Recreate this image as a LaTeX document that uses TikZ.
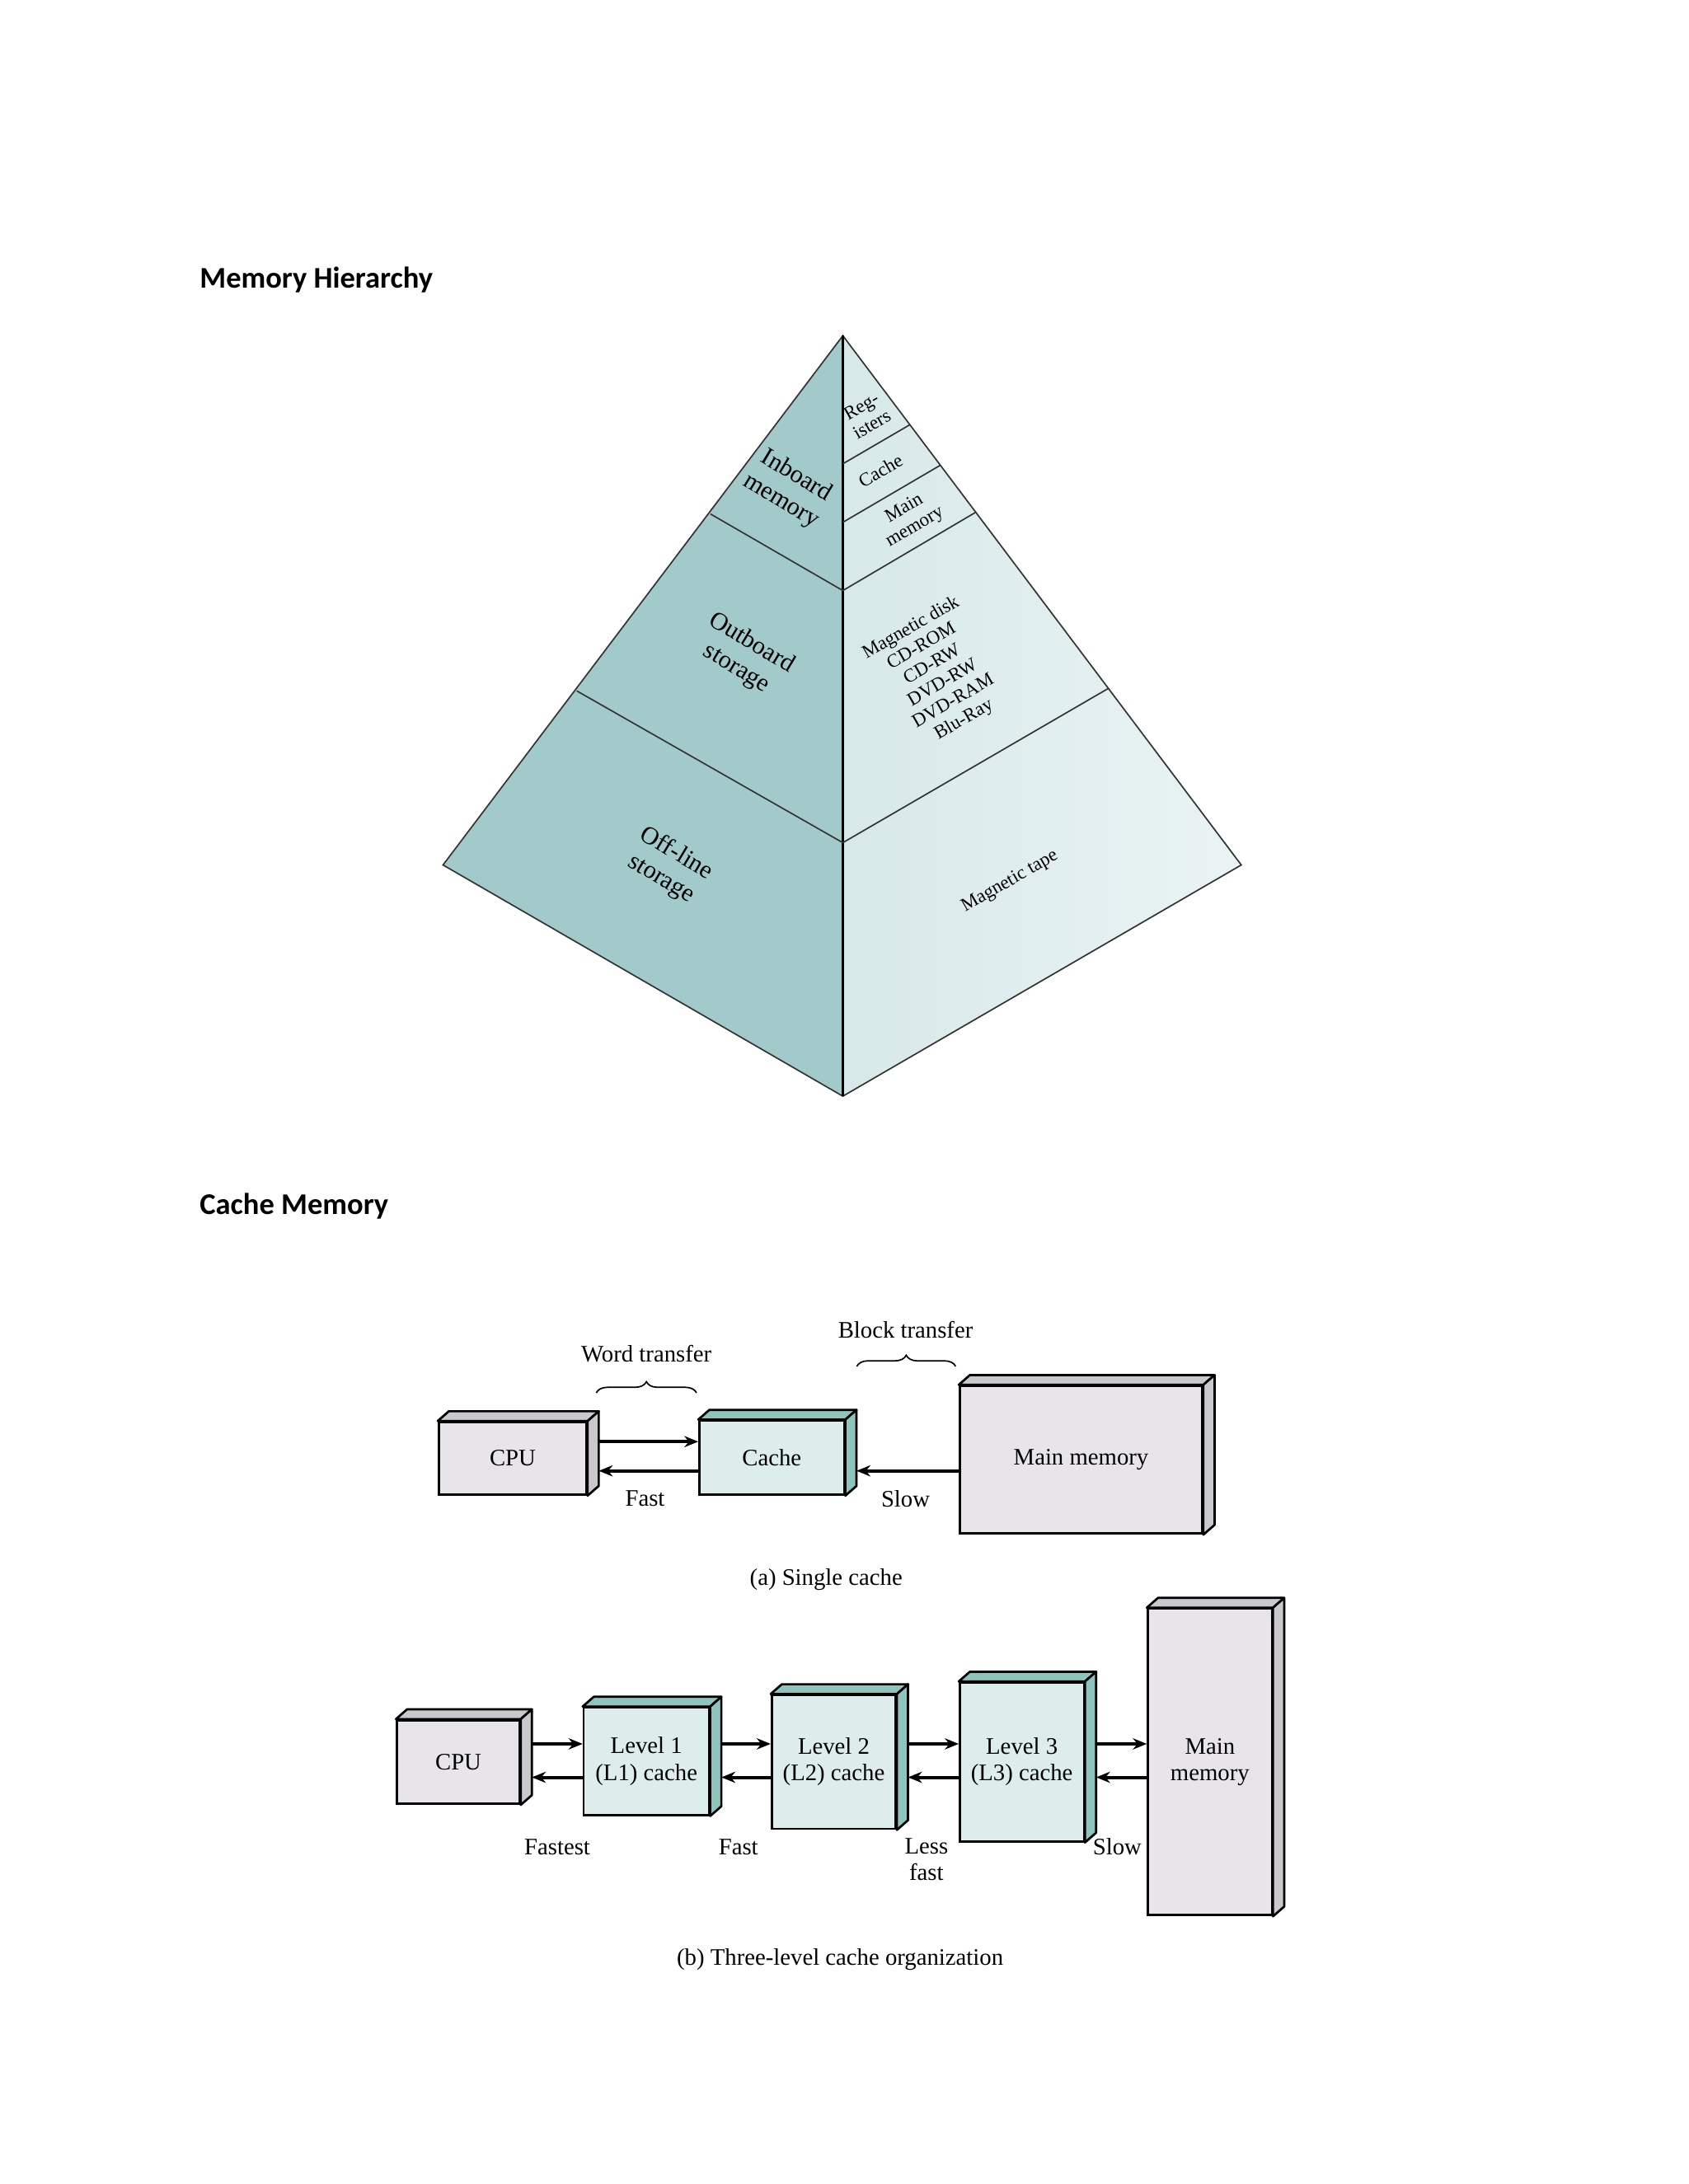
\documentclass[tikz,border=0pt]{standalone}
\usepackage{fontspec}
\setmainfont{Liberation Serif}
\newfontfamily\titlefont{Carlito}
\usetikzlibrary{calc,arrows.meta,decorations.pathreplacing}
\definecolor{dark}{HTML}{A3CACA}
\definecolor{light}{HTML}{DDECED}
\definecolor{gfront}{HTML}{E7E5E9}
\definecolor{gside}{HTML}{CAC8CC}
\definecolor{tfront}{HTML}{DCEDEB}
\definecolor{tside}{HTML}{8FC3BE}
\tikzset{
 pyr/.style={draw=black!80,line width=0.5pt},
 plab/.style={font=\fontsize{9}{10.5}\selectfont,align=center,inner sep=0pt},
 slab/.style={font=\fontsize{6.8}{7.6}\selectfont,align=center,inner sep=0pt},
 cbox/.style={draw,line width=0.8pt,inner sep=0pt,align=center,font=\fontsize{8.5}{9.5}\selectfont},
 lab/.style={font=\fontsize{8.5}{9.5}\selectfont,align=center,inner sep=1pt},
 arr/.style={line width=1.2pt,-{Stealth[length=5pt,width=4pt]}},
 ttl/.style={font=\titlefont\bfseries\fontsize{10.8}{12}\selectfont,anchor=west,inner sep=0pt},
 brc/.style={decorate,decoration={brace,amplitude=4pt},line width=0.5pt}
}
\newcommand\cube[8]{%
 \node[cbox,fill=#6,minimum width={0.5pt*(#4-#2)},minimum height={0.5pt*(#5-#3)}] (#1) at ({(#2+#4)/2},{(#3+#5)/2}) {#8};
 \draw[line width=0.8pt,fill=#7,line join=round] (#1.north west) -- ++(8,-7) -- ($(#1.north east)+(8,-7)$) -- (#1.north east) -- cycle;
 \draw[line width=0.8pt,fill=#7,line join=round] (#1.north east) -- ++(8,-7) -- ($(#1.south east)+(8,-7)$) -- (#1.south east) -- cycle;
}
\begin{document}
\begin{tikzpicture}[x=0.5pt,y=-0.5pt]
\useasboundingbox[fill=white] (0,0) rectangle (1212,1568);
\node[ttl] (t1) at (143,201) {Memory Hierarchy};
\node[ttl] (t2) at (143,866) {Cache Memory};
% pyramid
\coordinate (A) at (605,241);
\coordinate (L) at (318,621);
\coordinate (R) at (891,621);
\coordinate (B) at (605,787);
\fill[dark] (A) -- (L) -- (B) -- cycle;
\shade[left color=light!90!dark, right color=light!60] (A) -- (B) -- (R) -- cycle;
\draw[pyr] (A) -- (L) -- (B) -- (R) -- cycle;
\draw[line width=0.8pt] (A) -- (B);
\draw[pyr] (510,369) -- (605,424) -- (700,368);
\draw[pyr] (414,496) -- (605,605) -- (796,494);
\draw[pyr] (605,333) -- (653,305);
\draw[pyr] (605,375) -- (675,334);
\node[plab,rotate=-31] (n1) at (566,351) {Inboard\\memory};
\node[plab,rotate=-31] (n2) at (534,471) {Outboard\\storage};
\node[plab,rotate=-31] (n3) at (480,622) {Off-line\\storage};
\node[slab,rotate=30] (r1) at (622,298) {Reg-\\isters};
\node[slab,rotate=30] (r2) at (632,338) {Cache};
\node[slab,rotate=30] (r3) at (653,372) {Main\\memory};
\node[slab,rotate=30] (r4) at (673,484) {Magnetic disk\\CD-ROM\\CD-RW\\DVD-RW\\DVD-RAM\\Blu-Ray};
\node[slab,rotate=30] (r5) at (725,633) {Magnetic tape};
% (a)
\cube{cpua}{315}{1021}{421}{1073}{gfront}{gside}{CPU}
\cube{cachea}{502}{1020}{606}{1073}{tfront}{tside}{Cache}
\cube{mema}{689}{995}{863}{1101}{gfront}{gside}{Main memory}
\coordinate (ya1) at (0,1035);
\coordinate (ya2) at (0,1056);
\draw[arr] ([xshift=4pt]cpua.east |- ya1) -- (cachea.west |- ya1);
\draw[arr] (cachea.west |- ya2) -- ([xshift=4pt]cpua.east |- ya2);
\draw[arr] (mema.west |- ya2) -- ([xshift=4pt]cachea.east |- ya2);
\node[lab] (fa) at (463,1076) {Fast};
\node[lab] (sa) at (650,1076) {Slow};
\node[lab] (wt) at (464,972) {Word transfer};
\node[lab] (bt) at (650,955) {Block transfer};
\coordinate (w1) at (428,1000); \coordinate (w2) at (500,1000);
\draw[brc] (w1) -- (w2);
\coordinate (b1) at (615,981); \coordinate (b2) at (686,981);
\draw[brc] (b1) -- (b2);
\node[lab] (ca) at (593,1134) {(a) Single cache};
% (b)
\cube{cpub}{285}{1235}{373}{1295}{gfront}{gside}{CPU}
\cube{l1}{419}{1226}{509}{1303}{tfront}{tside}{Level 1\\(L1) cache}
\cube{l2}{554}{1217}{643}{1313}{tfront}{tside}{Level 2\\(L2) cache}
\cube{l3}{689}{1208}{778}{1322}{tfront}{tside}{Level 3\\(L3) cache}
\cube{memb}{824}{1155}{913}{1375}{gfront}{gside}{Main\\memory}
\coordinate (yb1) at (0,1252);
\coordinate (yb2) at (0,1276);
\foreach \p/\q in {cpub/l1,l1/l2,l2/l3,l3/memb}{
 \draw[arr] ([xshift=4pt]\p.east |- yb1) -- (\q.west |- yb1);
 \draw[arr] (\q.west |- yb2) -- ([xshift=4pt]\p.east |- yb2);
}
\node[lab] (f1) at (400,1326) {Fastest};
\node[lab] (f2) at (530,1326) {Fast};
\node[lab] (f3) at (665,1335) {Less\\fast};
\node[lab] (f4) at (802,1326) {Slow};
\node[lab] (cb) at (603,1407) {(b) Three-level cache organization};
\end{tikzpicture}
\end{document}
